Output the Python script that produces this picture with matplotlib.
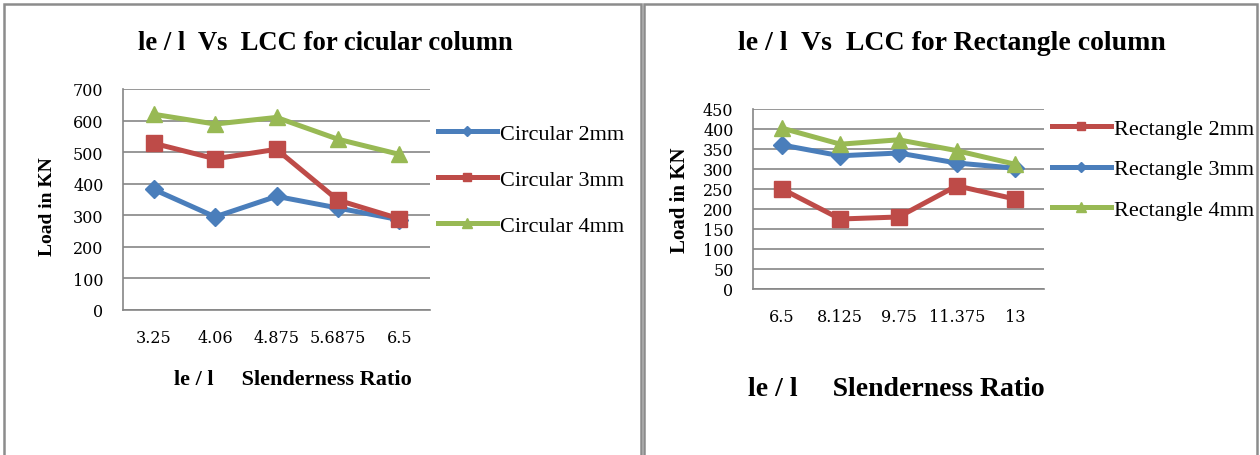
import matplotlib
matplotlib.use('Agg')
import matplotlib.pyplot as plt
from matplotlib.patches import Rectangle

# Data
circ_ratio = ['3.25', '4.06', '4.875', '5.6875', '6.5']
circ_2mm = [382, 295, 360, 323, 286]
circ_3mm = [528, 479, 509, 348, 289]
circ_4mm = [620, 589, 610, 541, 493]

rect_ratio = ['6.5', '8.125', '9.75', '11.375', '13']
rect_2mm = [250, 175, 180, 258, 225]
rect_3mm = [360, 333, 340, 315, 302]
rect_4mm = [402, 362, 373, 346, 312]

blue = '#4A7EBB'
red = '#BE4B48'
green = '#98B954'
grid_c = '#868686'
serif = ['Liberation Serif', 'DejaVu Serif']
tick_font = ['DejaVu Serif']

W, H = 1260, 456
fig = plt.figure(figsize=(W / 100, H / 100), dpi=100)


def fx(px):
    return px / W


def fy(py):
    return 1 - py / H


# panel borders
for x0, x1 in [(4, 641), (644, 1257)]:
    fig.patches.append(Rectangle((fx(x0), -0.1), fx(x1 - x0), fy(5) + 0.1,
                                 transform=fig.transFigure, fill=False,
                                 edgecolor='#8c8c8c', linewidth=1.8))


def style_axes(ax, ylim, yticks, labels):
    ax.set_xlim(-0.5, len(labels) - 0.5)
    ax.set_ylim(*ylim)
    ax.set_yticks(yticks)
    ax.set_xticks(range(len(labels)))
    ax.set_xticklabels(labels)
    ax.grid(axis='y', color=grid_c, linewidth=1.2)
    ax.set_axisbelow(True)
    for s in ['top', 'right']:
        ax.spines[s].set_visible(False)
    for s in ['left', 'bottom']:
        ax.spines[s].set_color(grid_c)
        ax.spines[s].set_linewidth(1.2)
    ax.tick_params(length=0, labelsize=11.5)
    ax.tick_params(axis='y', pad=14)
    ax.tick_params(axis='x', pad=14)
    for t in ax.get_xticklabels() + ax.get_yticklabels():
        t.set_family(tick_font)


def add_legend(ax, x, y, spacing):
    ax.legend(loc='center left', bbox_to_anchor=(fx(x), fy(y)),
              bbox_transform=fig.transFigure, frameon=False, borderpad=0,
              borderaxespad=0, handlelength=2.65, handletextpad=0.15,
              labelspacing=spacing, markerscale=0.55,
              prop={'family': serif, 'size': 16})


# left chart: circular column
ax1 = fig.add_axes([fx(123), fy(311), fx(430 - 123), (311 - 90) / H])
x = range(len(circ_ratio))
ax1.plot(x, circ_2mm, color=blue, lw=3.6, marker='D', ms=9, label='Circular 2mm')
ax1.plot(x, circ_3mm, color=red, lw=3.6, marker='s', ms=11, label='Circular 3mm')
ax1.plot(x, circ_4mm, color=green, lw=3.6, marker='^', ms=12, label='Circular 4mm')
style_axes(ax1, (0, 700), range(0, 701, 100), circ_ratio)
add_legend(ax1, 438, 180.5, 1.15)

fig.text(fx(325), fy(43), 'le / l  Vs  LCC for cicular column', ha='center',
         va='center', fontsize=19.2, fontweight='bold', family=serif)
fig.text(fx(293), fy(380), 'le / l     Slenderness Ratio', ha='center',
         va='center', fontsize=16, fontweight='bold', family=serif)
fig.text(fx(47), fy(207), 'Load in KN', ha='center', va='center',
         rotation=90, fontsize=14, fontweight='bold', family=serif)

# right chart: rectangle column
ax2 = fig.add_axes([fx(753), fy(290), fx(1044 - 753), (290 - 110) / H])
x = range(len(rect_ratio))
ax2.plot(x, rect_2mm, color=red, lw=3.6, marker='s', ms=11, label='Rectangle 2mm')
ax2.plot(x, rect_3mm, color=blue, lw=3.6, marker='D', ms=9, label='Rectangle 3mm')
ax2.plot(x, rect_4mm, color=green, lw=3.6, marker='^', ms=12, label='Rectangle 4mm')
style_axes(ax2, (0, 450), range(0, 451, 50), rect_ratio)
add_legend(ax2, 1052, 170, 0.9)

fig.text(fx(952), fy(43), 'le / l  Vs  LCC for Rectangle column', ha='center',
         va='center', fontsize=20, fontweight='bold', family=serif)
fig.text(fx(896), fy(390), 'le / l     Slenderness Ratio', ha='center',
         va='center', fontsize=20, fontweight='bold', family=serif)
fig.text(fx(680), fy(200), 'Load in KN', ha='center', va='center',
         rotation=90, fontsize=15, fontweight='bold', family=serif)

fig.savefig('out.png', dpi=100)
